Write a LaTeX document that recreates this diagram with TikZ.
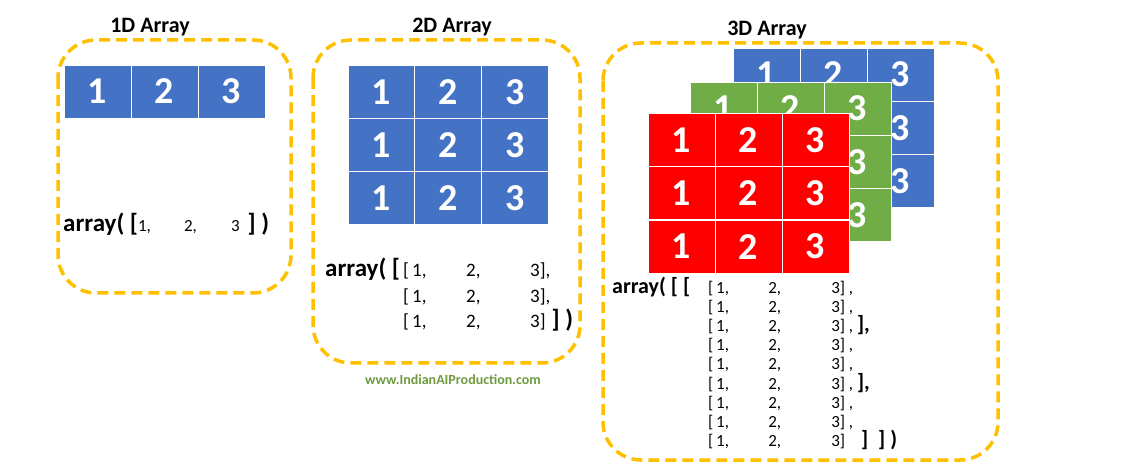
\documentclass[tikz,border=0pt]{standalone}
\usepackage{fontspec}
\setmainfont{Carlito}
\usepackage{tikz}
\usetikzlibrary{positioning}
\definecolor{cellblue}{HTML}{4472C4}
\definecolor{cellgreen}{HTML}{70AD47}
\definecolor{cellred}{HTML}{FF0000}
\definecolor{boxorange}{HTML}{FFC000}
\definecolor{webgreen}{HTML}{6E9B3F}
\tikzstyle{cell} = [rectangle, minimum width=67pt, minimum height=53pt, inner sep=0pt, draw=white, line width=0.6pt, text=white, font=\bfseries\fontsize{38}{38}\selectfont]
\tikzstyle{bl} = [cell, fill=cellblue]
\tikzstyle{gr} = [cell, fill=cellgreen]
\tikzstyle{rd} = [cell, fill=cellred]
\tikzstyle{frame} = [draw=boxorange, line width=3.5pt, dash pattern=on 11pt off 6pt, rounded corners=38pt]
\tikzstyle{title} = [font=\bfseries\fontsize{22}{22}\selectfont]
\tikzstyle{code} = [anchor=base west, inner sep=0pt]
\newcommand{\nums}[2]{[\,\makebox[#1][l]{1,}\makebox[#2][l]{2,}3]}
\newcommand{\bigb}{\bfseries\fontsize{22}{22}\selectfont}

\begin{document}
\begin{tikzpicture}[x=1pt,y=-1pt]
    \useasboundingbox (0,0) rectangle (1125,470);
    \draw[frame] (58,40) rectangle (291,293);
    \draw[frame] (313,40) rectangle (580,363);
    \draw[frame] (603,43) rectangle (998,460);
    \node (t1) [title] at (150,27) {1D Array};
    \node (t2) [title] at (452,27) {2D Array};
    \node (t3) [title] at (767,30) {3D Array};
    % 1D
    \foreach \c in {1,2,3}
        \node (a\c) [bl] at ({97.5+67*(\c-1)},91.5) {\c};
    % 2D
    \foreach \r in {0,1,2}
        \foreach \c in {1,2,3}
            \node (b\r\c) [bl] at ({381.3+66.7*(\c-1)},{91.7+53.3*\r}) {\c};
    % 3D, back to front
    \foreach \lay/\st/\x/\y in {u/bl/766.5/74.5, v/gr/723.5/108.5, w/rd/681.5/140}
        \foreach \r in {0,1,2}
            \foreach \c in {1,2,3}
                \node (\lay\r\c) [\st] at ({\x+67*(\c-1)},{\y+53.3*\r}) {\c};
    % code lines
    \node (code1) [code, font=\fontsize{17}{17}\selectfont] at (63,232)
        {{\bfseries\fontsize{25}{25}\selectfont array( [}\makebox[46pt][l]{1,}\makebox[47pt][l]{2,}3\hspace{8pt}{\bfseries\fontsize{25}{25}\selectfont ] )}};
    \node (code2) [code, font=\bfseries\fontsize{25}{25}\selectfont] at (325,277) {array( [};
    \foreach \i/\s in {0/{,}, 1/{,}, 2/{\hspace{6pt}{\bfseries\fontsize{25}{25}\selectfont ] )}}}
        \node (row2\i) [code, font=\fontsize{19}{19}\selectfont] at (403,{277+25.5*\i}) {\nums{54pt}{64pt}\s};
    \node (code3) [code, font=\bigb] at (612,294) {array( [ [};
    \foreach \i/\s in {0/{\ ,}, 1/{\ ,}, 2/{\ , {\bigb ],}}, 3/{\ ,}, 4/{\ ,}, 5/{\ , {\bigb ],}}, 6/{\ ,}, 7/{\ ,}, 8/{\hspace{16pt}{\bigb ]\hspace{10pt}] )}}}
        \node (row3\i) [code, font=\fontsize{17}{17}\selectfont] at (708,{294+19*\i}) {\nums{52pt}{63pt}\s};
    \node (web) [font=\bfseries\fontsize{14}{14}\selectfont, text=webgreen] at (453,380) {www.IndianAIProduction.com};
\end{tikzpicture}
\end{document}
